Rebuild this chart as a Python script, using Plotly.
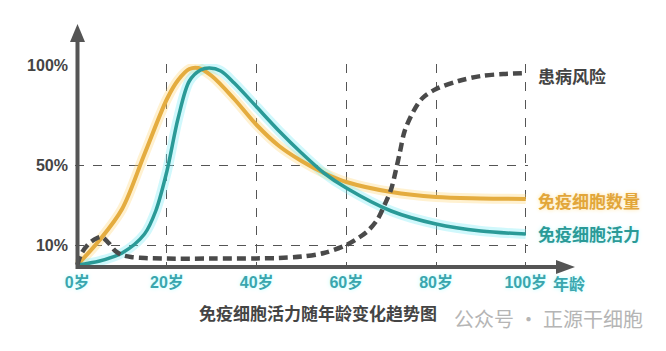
import plotly.graph_objects as go

# ---------------- data ----------------
ages_count = [0, 5, 10, 15, 20, 22.5, 25, 27, 30, 35, 40, 45, 50, 55, 60, 70, 80, 90, 100]
cell_count = [0, 12.5, 28, 55.5, 83, 92.5, 98, 98.5, 94.5, 83, 70, 59.5, 52, 46, 41.5, 36.5, 34, 33.3, 33]

ages_vital = [0, 5, 10, 15, 17.5, 20, 22.5, 25, 27.5, 29.5, 32, 35, 40, 45, 50, 55, 60, 70, 80, 90, 100]
cell_vitality = [0, 2, 6, 15.5, 27, 47, 73.5, 92, 97.5, 98.5, 97, 91, 79, 67, 56, 46, 38.5, 27, 20.5, 17, 15.5]

ages_risk = [0, 1, 2.5, 4, 5.5, 7, 8.5, 10, 12, 15, 20, 30, 40, 45, 50, 55, 60, 63, 65, 67, 68.5, 70, 71, 72, 73, 75, 77, 80, 85, 90, 95, 100]
disease_risk = [0, 6, 10.5, 13, 14, 11, 7, 5, 4, 3.5, 3.2, 3.2, 3.3, 3.5, 4.2, 6, 10, 14, 17.5, 23, 30, 38, 47, 57, 67, 77, 83.5, 88, 92, 94.5, 95.5, 96]

x_ticks = [0, 20, 40, 60, 80, 100]
x_labels = ["0岁", "20岁", "40岁", "60岁", "80岁", "100岁"]
y_ticks = [10, 50, 100]
y_labels = ["10%", "50%", "100%"]

series_names = ["免疫细胞数量", "免疫细胞活力", "患病风险"]
title_text = "免疫细胞活力随年龄变化趋势图"
axis_name = "年龄"
watermark = "公众号 · 正源干细胞"

# ---------------- style ----------------
W, H = 666, 351
ML, MR, MT, MB = 75, 138, 64, 85
YELLOW = "#E4AC3F"
TEAL = "#2A9A97"
DARK = "#4a4a4a"
TICK_TEAL = "#3AA6AE"
FONT = "Liberation Sans, Noto Sans CJK SC, sans-serif"
CJK = "Noto Sans CJK SC, sans-serif"

pw = W - ML - MR
ph = H - MT - MB


def px(xp):
    return (xp - ML) / pw


def py(yp):
    return (H - MB - yp) / ph


fig = go.Figure()

# glow layers
fig.add_trace(go.Scatter(x=ages_count, y=cell_count, mode="lines",
                         line=dict(color="rgba(255,215,120,0.35)", width=10, shape="spline", smoothing=0.9),
                         hoverinfo="skip", showlegend=False))
fig.add_trace(go.Scatter(x=ages_vital, y=cell_vitality, mode="lines",
                         line=dict(color="rgba(120,235,245,0.35)", width=10, shape="spline", smoothing=0.9),
                         hoverinfo="skip", showlegend=False))

fig.add_trace(go.Scatter(x=ages_count, y=cell_count, mode="lines", name=series_names[0],
                         line=dict(color=YELLOW, width=4, shape="spline", smoothing=0.9), showlegend=False))
fig.add_trace(go.Scatter(x=ages_vital, y=cell_vitality, mode="lines", name=series_names[1],
                         line=dict(color=TEAL, width=3.5, shape="spline", smoothing=0.9), showlegend=False))
fig.add_trace(go.Scatter(x=ages_risk, y=disease_risk, mode="lines", name=series_names[2],
                         line=dict(color=DARK, width=4.5, shape="spline", smoothing=0.9, dash="9px,5px"), showlegend=False))

fig.update_xaxes(range=[-0.5, 100.5], tickvals=x_ticks, ticktext=x_labels,
                 showgrid=True, gridcolor="#555", gridwidth=1.3, griddash="dash",
                 zeroline=False, showline=False, ticks="",
                 tickfont=dict(family=FONT, size=16, color=TICK_TEAL, weight="bold", shadow="0px 0px 4px #bff"),
                 ticklabelstandoff=5)
fig.update_yaxes(range=[-0.5, 100.5], tickvals=y_ticks, ticktext=y_labels,
                 showgrid=True, gridcolor="#555", gridwidth=1.3, griddash="dash",
                 zeroline=False, showline=False, ticks="",
                 tickfont=dict(family=FONT, size=16, color="#444", weight="bold"),
                 ticklabelstandoff=6)

shapes = []
# y axis with arrow
shapes.append(dict(type="line", xref="paper", yref="paper", x0=px(77.5), x1=px(77.5), y0=py(269), y1=py(40),
                   line=dict(color="#555", width=4)))
shapes.append(dict(type="path", xref="paper", yref="paper",
                   path=f"M {px(77.5)} {py(24)} L {px(70)} {py(42)} L {px(85)} {py(42)} Z",
                   fillcolor="#555", line=dict(width=0)))
# x axis with arrow
shapes.append(dict(type="line", xref="paper", yref="paper", x0=px(76), x1=px(560), y0=py(267), y1=py(267),
                   line=dict(color="#555", width=4)))
shapes.append(dict(type="path", xref="paper", yref="paper",
                   path=f"M {px(575)} {py(267)} L {px(556)} {py(260)} L {px(556)} {py(274)} Z",
                   fillcolor="#555", line=dict(width=0)))

annotations = [
    dict(x=px(536), y=py(75), xref="paper", yref="paper", text=series_names[2], showarrow=False,
         xanchor="left", yanchor="middle", font=dict(family=CJK, size=17, color="#444", weight="bold")),
    dict(x=px(536), y=py(200), xref="paper", yref="paper", text=series_names[0], showarrow=False,
         xanchor="left", yanchor="middle", font=dict(family=CJK, size=17, color="#E2A63A", weight="bold", shadow="0px 0px 4px #fde2a0")),
    dict(x=px(536), y=py(233), xref="paper", yref="paper", text=series_names[1], showarrow=False,
         xanchor="left", yanchor="middle", font=dict(family=CJK, size=17, color=TEAL, weight="bold", shadow="0px 0px 4px #c8f7fa")),
    dict(x=px(551), y=py(283), xref="paper", yref="paper", text=axis_name, showarrow=False,
         xanchor="left", yanchor="middle", font=dict(family=CJK, size=16, color=TICK_TEAL, weight="bold", shadow="0px 0px 4px #bff")),
    dict(x=px(318), y=py(312), xref="paper", yref="paper", text=title_text, showarrow=False,
         xanchor="center", yanchor="middle", font=dict(family=CJK, size=17, color="#444", weight="bold")),
    dict(x=px(645), y=py(318), xref="paper", yref="paper", text=watermark, showarrow=False,
         xanchor="right", yanchor="middle", font=dict(family=CJK, size=20, color="#b5b5b5")),
]

fig.update_layout(width=W, height=H, margin=dict(l=ML, r=MR, t=MT, b=MB),
                  paper_bgcolor="white", plot_bgcolor="white",
                  shapes=shapes, annotations=annotations, showlegend=False)

fig.write_html("out.html")
